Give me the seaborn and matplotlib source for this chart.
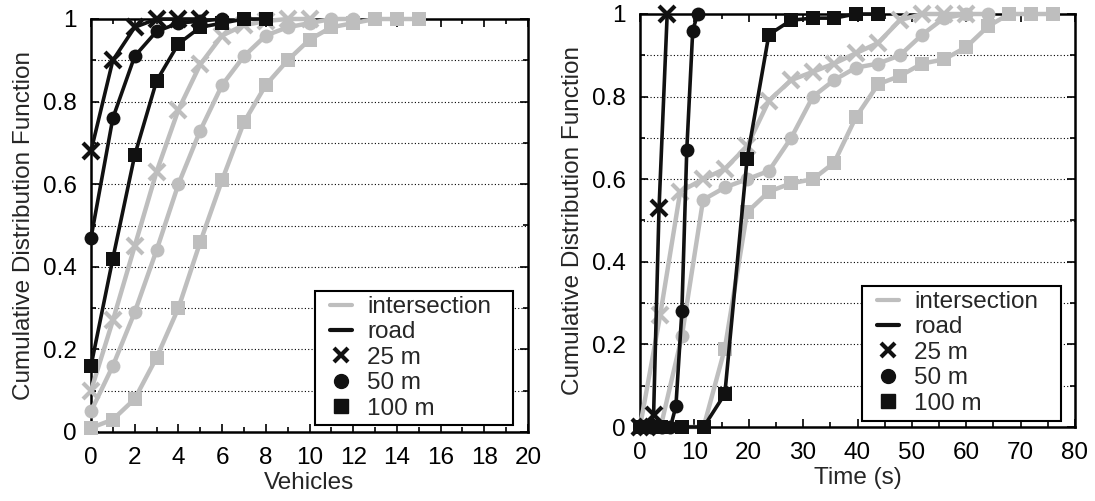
import matplotlib
matplotlib.use("Agg")
import matplotlib.pyplot as plt
import seaborn as sns
import numpy as np
import pandas as pd
from matplotlib.lines import Line2D
from matplotlib.patches import Rectangle
from matplotlib.ticker import MultipleLocator, FormatStrFormatter

sns.set_theme(style="ticks")
plt.rcParams['font.family'] = ['Liberation Sans', 'DejaVu Sans']

# ---------------- Left panel: Vehicles ----------------
veh_int25_x = [0, 1, 2, 3, 4, 5, 6, 7, 8, 9, 10]
veh_int25_y = [0.10, 0.27, 0.45, 0.63, 0.78, 0.89, 0.96, 0.985, 0.995, 1.0, 1.0]
veh_int50_x = [0, 1, 2, 3, 4, 5, 6, 7, 8, 9, 10, 11, 12]
veh_int50_y = [0.05, 0.16, 0.29, 0.44, 0.60, 0.73, 0.84, 0.91, 0.96, 0.98, 0.99, 1.0, 1.0]
veh_int100_x = [0, 1, 2, 3, 4, 5, 6, 7, 8, 9, 10, 11, 12, 13, 14, 15]
veh_int100_y = [0.01, 0.03, 0.08, 0.18, 0.30, 0.46, 0.61, 0.75, 0.84, 0.90, 0.95, 0.98, 0.99, 1.0, 1.0, 1.0]
veh_road25_x = [0, 1, 2, 3, 4, 5]
veh_road25_y = [0.68, 0.90, 0.98, 1.0, 1.0, 1.0]
veh_road50_x = [0, 1, 2, 3, 4, 5, 6]
veh_road50_y = [0.47, 0.76, 0.91, 0.97, 0.99, 0.995, 1.0]
veh_road100_x = [0, 1, 2, 3, 4, 5, 6, 7, 8]
veh_road100_y = [0.16, 0.42, 0.67, 0.85, 0.94, 0.98, 0.99, 1.0, 1.0]

# ---------------- Right panel: Time (s) ----------------
t_int25_x = [0, 3.7, 7.4, 11.6, 15.6, 19.7, 23.7, 27.8, 31.8, 35.7, 39.7, 43.8, 47.8, 51.9, 55.9, 60.0]
t_int25_y = [0.0, 0.27, 0.57, 0.60, 0.625, 0.68, 0.79, 0.84, 0.86, 0.88, 0.905, 0.93, 0.985, 1.0, 1.0, 1.0]
t_int50_x = [0, 3.8, 7.7, 11.6, 15.6, 19.7, 23.7, 27.8, 31.8, 35.7, 39.7, 43.8, 47.8, 51.9, 55.9, 60.0, 64.0]
t_int50_y = [0.0, 0.0, 0.22, 0.55, 0.58, 0.60, 0.62, 0.70, 0.80, 0.84, 0.87, 0.88, 0.90, 0.95, 0.99, 1.0, 1.0]
t_int100_x = [0, 3.8, 7.7, 11.7, 15.6, 19.7, 23.7, 27.8, 31.8, 35.7, 39.7, 43.8, 47.8, 51.9, 55.9, 60.0, 64.0, 67.9, 71.9, 75.9]
t_int100_y = [0.0, 0.0, 0.0, 0.0, 0.19, 0.52, 0.57, 0.59, 0.60, 0.64, 0.75, 0.83, 0.85, 0.88, 0.89, 0.92, 0.97, 1.0, 1.0, 1.0]
t_road25_x = [0, 1.2, 2.5, 3.5, 5.0]
t_road25_y = [0.0, 0.0, 0.03, 0.53, 1.0]
t_road50_x = [0, 2.0, 4.0, 5.6, 6.6, 7.7, 8.6, 9.7, 10.6]
t_road50_y = [0.0, 0.0, 0.0, 0.0, 0.05, 0.28, 0.67, 0.96, 1.0]
t_road100_x = [0, 3.9, 7.8, 11.7, 15.6, 19.7, 23.7, 27.8, 31.8, 35.7, 39.7, 43.8]
t_road100_y = [0.0, 0.0, 0.0, 0.0, 0.08, 0.65, 0.95, 0.985, 0.99, 0.99, 1.0, 1.0]

legend_labels = ["intersection", "road", "25 m", "50 m", "100 m"]

GRAY = "#bebebe"
BLACK = "#111111"
FS = 17.5

W, H = 1095, 501
fig = plt.figure(figsize=(W / 100, H / 100), dpi=100)
# axes boxes in pixel coordinates (left, right, top, bottom)
L_BOX = (91, 528, 19, 432)
R_BOX = (640, 1075, 14, 427)


def add_axes(box):
    l, r, t, b = box
    return fig.add_axes([l / W, 1 - b / H, (r - l) / W, (b - t) / H])


axL = add_axes(L_BOX)
axR = add_axes(R_BOX)


def to_axes(box, px, py):
    l, r, t, b = box
    return (px - l) / (r - l), (b - py) / (b - t)


def draw(ax, x, y, color, marker, lw):
    df = pd.DataFrame({"x": x, "y": y})
    kw = dict(markeredgecolor=color, markerfacecolor=color)
    if marker == "x":
        kw.update(markersize=11, markeredgewidth=3)
    elif marker == "s":
        kw.update(markersize=9.5, markeredgewidth=0)
    else:
        kw.update(markersize=10, markeredgewidth=0)
    sns.lineplot(data=df, x="x", y="y", ax=ax, color=color, marker=marker,
                 linewidth=lw, estimator=None, sort=False, legend=False,
                 clip_on=False, zorder=3, **kw)


def style(ax, box, xmax, xmajor, xminor, xlabel, frame_px, content_px):
    ax.set_xlim(0, xmax)
    ax.set_ylim(0, 1)
    ax.xaxis.set_major_locator(MultipleLocator(xmajor))
    ax.xaxis.set_minor_locator(MultipleLocator(xminor))
    ax.yaxis.set_major_locator(MultipleLocator(0.2))
    ax.yaxis.set_minor_locator(MultipleLocator(0.1))
    ax.yaxis.set_major_formatter(FormatStrFormatter("%g"))
    ax.tick_params(which="both", direction="in", top=True, right=True,
                   colors="black", width=1.2)
    ax.tick_params(which="major", length=6, labelsize=FS)
    ax.tick_params(axis="x", which="major", pad=11)
    ax.tick_params(axis="y", which="major", pad=10)
    ax.tick_params(which="minor", length=3.5)
    for s in ax.spines.values():
        s.set_linewidth(1.8)
        s.set_color("black")
    for v in np.arange(0.1, 0.95, 0.1):
        ax.axhline(v, color="black", linestyle=(0, (1, 2)), linewidth=0.8, zorder=1)
    ax.set_xlabel(xlabel, fontsize=FS, labelpad=2)
    ax.set_ylabel("Cumulative Distribution Function", fontsize=FS, labelpad=6)

    # legend frame
    fx0, fy0 = to_axes(box, frame_px[0], frame_px[3])
    fx1, fy1 = to_axes(box, frame_px[1], frame_px[2])
    ax.add_patch(Rectangle((fx0, fy0), fx1 - fx0, fy1 - fy0, transform=ax.transAxes,
                           facecolor="white", edgecolor="black", linewidth=1.5,
                           zorder=9, clip_on=False))
    handles = [Line2D([], [], color=GRAY, lw=3),
               Line2D([], [], color=BLACK, lw=3),
               Line2D([], [], color=BLACK, lw=0, marker="x", markersize=10, markeredgewidth=3),
               Line2D([], [], color=BLACK, lw=0, marker="o", markersize=10),
               Line2D([], [], color=BLACK, lw=0, marker="s", markersize=10)]
    cx, cy = to_axes(box, content_px[0], content_px[1])
    leg = ax.legend(handles, legend_labels, loc="upper left", fontsize=FS,
                    bbox_to_anchor=(cx, cy), borderaxespad=0, borderpad=0,
                    frameon=False, handlelength=0.9, handletextpad=0.62,
                    labelspacing=0.14)
    leg.set_zorder(10)


for ax, box, series, xmax, xmaj, xmin, xl, frame_px, content_px in [
    (axL, L_BOX,
     [(veh_int25_x, veh_int25_y, GRAY, "x", 3.2),
      (veh_int50_x, veh_int50_y, GRAY, "o", 3.2),
      (veh_int100_x, veh_int100_y, GRAY, "s", 3.2),
      (veh_road25_x, veh_road25_y, BLACK, "x", 2.6),
      (veh_road50_x, veh_road50_y, BLACK, "o", 2.6),
      (veh_road100_x, veh_road100_y, BLACK, "s", 2.6)], 20, 2, 1, "Vehicles",
     (315, 513, 291, 425), (330, 296)),
    (axR, R_BOX,
     [(t_int25_x, t_int25_y, GRAY, "x", 3.2),
      (t_int50_x, t_int50_y, GRAY, "o", 3.2),
      (t_int100_x, t_int100_y, GRAY, "s", 3.2),
      (t_road25_x, t_road25_y, BLACK, "x", 2.6),
      (t_road50_x, t_road50_y, BLACK, "o", 2.6),
      (t_road100_x, t_road100_y, BLACK, "s", 2.6)], 80, 10, 5, "Time (s)",
     (862, 1061, 286, 421), (877, 291)),
]:
    for x, y, c, m, lw in series:
        draw(ax, x, y, c, m, lw)
    style(ax, box, xmax, xmaj, xmin, xl, frame_px, content_px)

fig.savefig("out.png", dpi=100)
